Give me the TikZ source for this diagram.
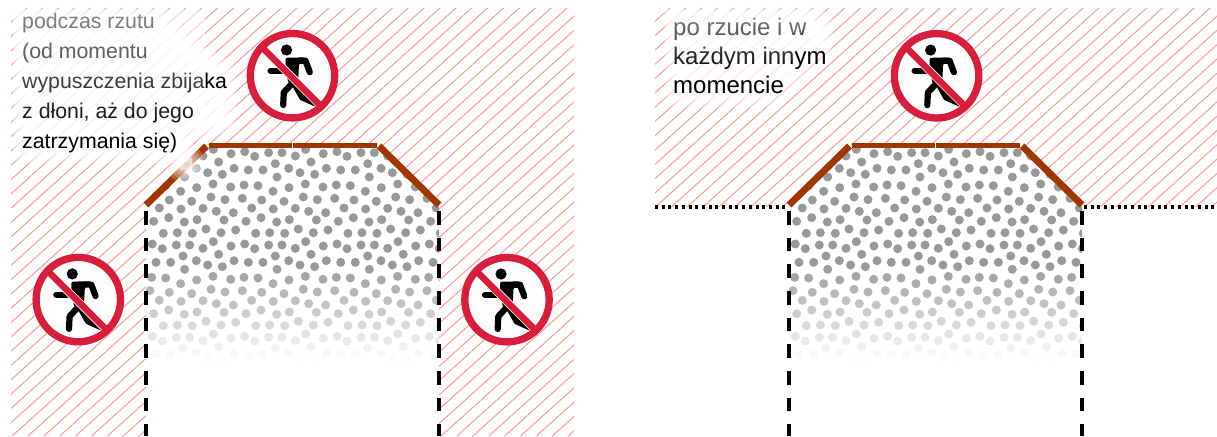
\documentclass[tikz,border=0pt]{standalone}
\usepackage{fontspec}
\setmainfont{Liberation Sans}
\usetikzlibrary{fadings}
\definecolor{hatchred}{HTML}{FF9696}
\definecolor{signred}{HTML}{D81E3A}
\definecolor{brown1}{HTML}{A23600}
\tikzfading[name=upfade, top color=transparent!45, bottom color=transparent!100]
\tikzset{
  hatchline/.style={draw=hatchred, line width=0.95pt},
  rimline/.style={draw=brown1, line width=5.8pt},
  rimslant/.style={draw=brown1, line width=6.8pt},
  limitdash/.style={draw=black, line width=3.2pt, dash pattern=on 13.5pt off 13.17pt},
  limitdot/.style={draw=black, line width=3.2pt, dash pattern=on 3pt off 3.7pt},
  labeltext/.style={inner sep=0pt, anchor=north west, align=left, font=\fontsize{21.3}{30}\selectfont},
  labeltextb/.style={inner sep=0pt, anchor=north west, align=left, font=\fontsize{24}{29.2}\selectfont},
  limb/.style={draw=black, line width=6.2pt, line cap=round, line join=round},
  nosign/.pic={
    \fill[white] (0,0) circle[radius=42pt];
    \fill[black] (-6,-25.7) circle[radius=5.6pt];
    \draw[limb] (-22,-5) -- (-3,-5);
    \draw[limb] (6,-15) -- (13,-15) -- (17.3,-3.5);
    \fill[black, rounded corners=2pt] (-7,-18) -- (13,-18.3) -- (6.5,-12) -- (5.5,10) -- (-3.7,8.3) -- (-7,-5) -- cycle;
    \draw[limb] (-0.3,7.7) -- (-8.7,16.7) -- (-9.3,29.3);
    \draw[limb] (2,8) -- (9.7,21.7) -- (23,27.7);
    \draw[white, line width=8.2pt] (-30,-28) -- (30,32);
    \draw[signred, line width=6.6pt] (-31,-29) -- (31,33);
    \draw[signred, line width=7.3pt] (0,0) circle[radius=42.2pt];
  }
}
\newcommand\hatchfield{%
  \foreach \k in {-25,...,50}{%
    \pgfmathsetmacro\cc{418.2+\k*14.3-100}%
    \draw[hatchline] (0,\cc) -- (1300,\cc-1170);
  }%
}
\newcommand\dotfield{%
  \foreach \zx/\zy in {100/40,142/38,187/40,228/27,273/38,317/30,
    67/72,97/86,139/75,179/75,219/85,250/65,303/78,
    159/108,266/103,
    78/127,122/127,199/122,233/135,277/140,312/122,164/148,
    65/172,107/174,152/191,200/180,249/169,302/178,
    60/212,118/217,185/221,243/208,285/216,
    88/241,153/244,219/242,259/251,310/255,
    71/281,116/270,163/283,201/276,282/277}{%
    \foreach \i in {0,1,2,3}{%
      \foreach \j in {-1,0,1}{%
        \pgfmathsetmacro\X{130+\zx/3+\i*92.33}%
        \pgfmathsetmacro\Y{220+\zy/3+\j*92.33}%
        \pgfmathsetmacro\g{min(1,max(0.6,0.6+(\Y-265)*0.0042))}%
        \definecolor{dotc}{gray}{\g}%
        \fill[dotc] (\X,\Y) circle[radius=4.5pt];
      }%
    }%
  }%
}
\newcommand\rimpaths{%
  \draw[rimslant] (146,205) -- (206.5,146);
  \draw[rimline] (208.5,145.5) -- (291.7,145.5);
  \draw[rimline] (292.7,145.5) -- (377,145.5);
  \draw[rimslant] (379,146) -- (439,205);
}
\newcommand\shapedots{%
  \begin{scope}
    \clip (146,207) -- (207,147) -- (378,147) -- (439,207) -- (439,370) -- (146,370) -- cycle;
    \dotfield
  \end{scope}
}
\begin{document}
\begin{tikzpicture}[x=1pt,y=-1pt]
\useasboundingbox (0,0) rectangle (1217,436);
\fill[white] (0,0) rectangle (1217,436);

% left hatched area
\begin{scope}
  \clip (11,8) -- (574,8) -- (574,436) -- (439,436) -- (439,205) -- (378,145) -- (207,145) -- (146,205) -- (146,436) -- (11,436) -- cycle;
  \hatchfield
\end{scope}
% right hatched area
\begin{scope}
  \clip (655,8) -- (1217,8) -- (1217,207) -- (1082,207) -- (1021,145) -- (850,145) -- (789,207) -- (655,207) -- cycle;
  \begin{scope}[shift={(643,0)}]
    \hatchfield
  \end{scope}
\end{scope}

% dotted fields and limits, left
\shapedots
\draw[limitdash] (146,211) -- (146,436);
\draw[limitdash] (439,211) -- (439,436);
\rimpaths

% right
\begin{scope}[shift={(643,0)}]
  \shapedots
  \draw[limitdash] (146,211) -- (146,436);
  \draw[limitdash] (439,211) -- (439,436);
  \rimpaths
\end{scope}
\draw[limitdot] (655,207) -- (788,207);
\draw[limitdot] (1084,207) -- (1217,207);

% white haze behind the texts
\foreach \w in {22,15,9,3}{
  \filldraw[white, opacity=0.33, line width=\w pt, line join=round]
    (24,20) -- (152,20) -- (224,72) -- (224,122) -- (182,132) -- (182,152) -- (24,152) -- cycle;
  \filldraw[white, opacity=0.22, line width=\w pt, line join=round]
    (180,158) -- (192,158) -- (192,170) -- (180,170) -- cycle;
  \filldraw[white, opacity=0.3, line width=\w pt, line join=round]
    (676,22) -- (822,22) -- (822,50) -- (770,96) -- (676,96) -- cycle;
}

% signs
\path (292.5,75.7) pic {nosign};
\path (78.3,299.6) pic {nosign};
\path (507,299.7) pic {nosign};
\path (936.6,75.8) pic {nosign};

% texts
\node[labeltext] (labelL) at (22,13) {podczas rzutu\\(od momentu\\wypuszczenia zbijaka\\z dłoni, aż do jego\\zatrzymania się)};
\node[labeltextb] (labelR) at (673,18) {po rzucie i w\\każdym innym\\momencie};

% fade over the texts
\fill[white, path fading=upfade] (14,10) rectangle (205,140);
\fill[white, path fading=upfade] (665,10) -- (812,10) -- (786,74) -- (665,74) -- cycle;
\end{tikzpicture}
\end{document}
